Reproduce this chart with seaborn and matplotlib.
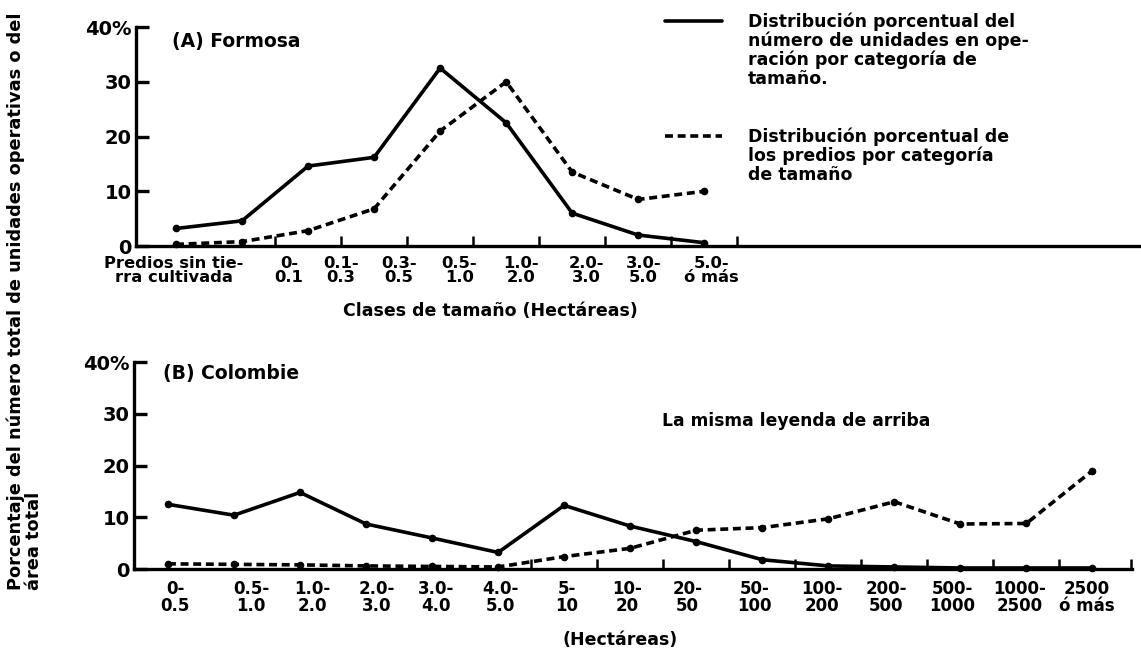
import numpy as np
import pandas as pd
import seaborn as sns
import matplotlib.pyplot as plt
from matplotlib.lines import Line2D
from matplotlib.transforms import ScaledTranslation

# (A) Formosa - clases de tamaño (hectáreas)
clases_formosa = ["Predios sin tie-\nrra cultivada", "0-\n0.1", "0.1-\n0.3", "0.3-\n0.5",
                  "0.5-\n1.0", "1.0-\n2.0", "2.0-\n3.0", "3.0-\n5.0", "5.0-\nó más"]
# % del número de unidades en operación
unidades_formosa = [3.2, 4.6, 14.6, 16.2, 32.5, 22.5, 6.0, 2.0, 0.6]
# % de los predios
predios_formosa = [0.3, 0.8, 2.8, 6.8, 21.0, 30.0, 13.5, 8.5, 10.0]

# (B) Colombia
clases_colombia = ["0-\n0.5", "0.5-\n1.0", "1.0-\n2.0", "2.0-\n3.0", "3.0-\n4.0", "4.0-\n5.0",
                   "5-\n10", "10-\n20", "20-\n50", "50-\n100", "100-\n200", "200-\n500",
                   "500-\n1000", "1000-\n2500", "2500\nó más"]
unidades_colombia = [12.5, 10.4, 14.8, 8.7, 6.0, 3.2, 12.3, 8.3, 5.3, 1.8, 0.6, 0.4, 0.2, 0.2, 0.2]
predios_colombia = [1.0, 0.9, 0.8, 0.6, 0.5, 0.4, 2.4, 4.0, 7.5, 8.0, 9.7, 13.0, 8.7, 8.8, 19.0]

marcas_y = [0, 10, 20, 30, 40]
etiquetas_y = ["0", "10", "20", "30", "40%"]

texto_unidades = ("Distribución porcentual del\nnúmero de unidades en ope-\n"
                  "ración por categoría de\ntamaño.")
texto_predios = "Distribución porcentual de\nlos predios por categoría\nde tamaño"

sns.set_style("white", {"axes.edgecolor": "black", "axes.labelcolor": "black",
                        "text.color": "black", "xtick.color": "black", "ytick.color": "black"})
plt.rcParams["font.family"] = ["DejaVu Sans"]
plt.rcParams["font.weight"] = "bold"

fig = plt.figure(figsize=(11.41, 6.56), dpi=100)
ax_a = fig.add_axes([0.1192, 0.625, 0.880, 0.3338])
ax_b = fig.add_axes([0.1174, 0.1326, 0.8747, 0.3155])

GROSOR = 2.6
TRAZO = (0, (2.2, 1.3))


def dibujar(ax, unidades, predios):
    df = pd.DataFrame({"pos": np.arange(len(unidades)),
                       "unidades": unidades, "predios": predios})
    sns.lineplot(data=df, x="pos", y="unidades", color="black", lw=GROSOR,
                 marker="o", ms=5.5, mew=0, ax=ax, clip_on=False)
    sns.lineplot(data=df, x="pos", y="predios", color="black", lw=GROSOR,
                 linestyle=TRAZO, marker="o", ms=5.5, mew=0, ax=ax, clip_on=False)


def ejes(ax, clases, xlim, desplaz, tam, pad, menores):
    sns.despine(ax=ax)
    for lado in ("left", "bottom"):
        ax.spines[lado].set_linewidth(2.4)
    ax.set_ylim(0, 40)
    ax.set_xlim(*xlim)
    ax.set_yticks(marcas_y, etiquetas_y)
    ax.set_xticks(np.arange(len(clases)), clases)
    ax.set_xticks(menores, minor=True)
    ax.tick_params(axis="y", left=True, direction="in", length=9, width=2.4, labelsize=14, pad=3)
    ax.tick_params(axis="x", which="major", bottom=True, length=0, labelsize=tam, pad=pad)
    ax.tick_params(axis="x", which="minor", bottom=True, direction="in", length=7, width=1.8)
    ax.set_xlabel("")
    ax.set_ylabel("")
    for lab, dx in zip(ax.get_xticklabels(), desplaz):
        lab.set_linespacing(0.95)
        lab.set_transform(lab.get_transform() + ScaledTranslation(dx / 100, 0, fig.dpi_scale_trans))


dibujar(ax_a, unidades_formosa, predios_formosa)
dibujar(ax_b, unidades_colombia, predios_colombia)

ejes(ax_a, clases_formosa, (-0.606, 14.6), [-2, 47, 33, 25, 19, 15, 14, 5, 7], 11.8, 7,
     np.arange(1.5, 9, 1.0))
ejes(ax_b, clases_colombia, (-0.515, 14.6), [7, 17, 12, 11, 4, 2, 3, -3, -9, -8, -6, -8, -8, -7, -6],
     12, 8, list(np.arange(5.5, 14, 1.0)) + [14.58])

ax_a.set_xlabel("Clases de tamaño (Hectáreas)", fontsize=12.5, fontweight="bold",
                color="black", va="center")
ax_a.xaxis.set_label_coords(0.4294, 0.526, transform=fig.transFigure)
ax_b.set_xlabel("(Hectáreas)", fontsize=12.5, fontweight="bold", color="black", va="center")
ax_b.xaxis.set_label_coords(0.5434, 0.0244, transform=fig.transFigure)

fig.text(0.1507, 0.936, "(A) Formosa", fontsize=13.5, va="center")
fig.text(0.1429, 0.431, "(B) Colombie", fontsize=13.5, va="center")
fig.text(0.6976, 0.358, "La misma leyenda de arriba", fontsize=12.3, ha="center", va="center")

fig.text(0.006, 0.1006,
         "Porcentaje del número total de unidades operativas o del\nárea total",
         rotation=90, fontsize=12.8, ha="left", va="bottom", ma="left", linespacing=0.95)

# leyenda dibujada a mano (clave junto a la primera línea del texto)
fig.add_artist(Line2D([0.583, 0.633], [0.968, 0.968], color="black", lw=GROSOR,
                      transform=fig.transFigure))
fig.add_artist(Line2D([0.583, 0.633], [0.793, 0.793], color="black", lw=GROSOR,
                      linestyle=TRAZO, transform=fig.transFigure))
fig.text(0.6556, 0.981, texto_unidades, fontsize=12.5, va="top", linespacing=1.05)
fig.text(0.6556, 0.806, texto_predios, fontsize=12.5, va="top", linespacing=1.05)

fig.savefig("out.png", dpi=100, facecolor="white")
